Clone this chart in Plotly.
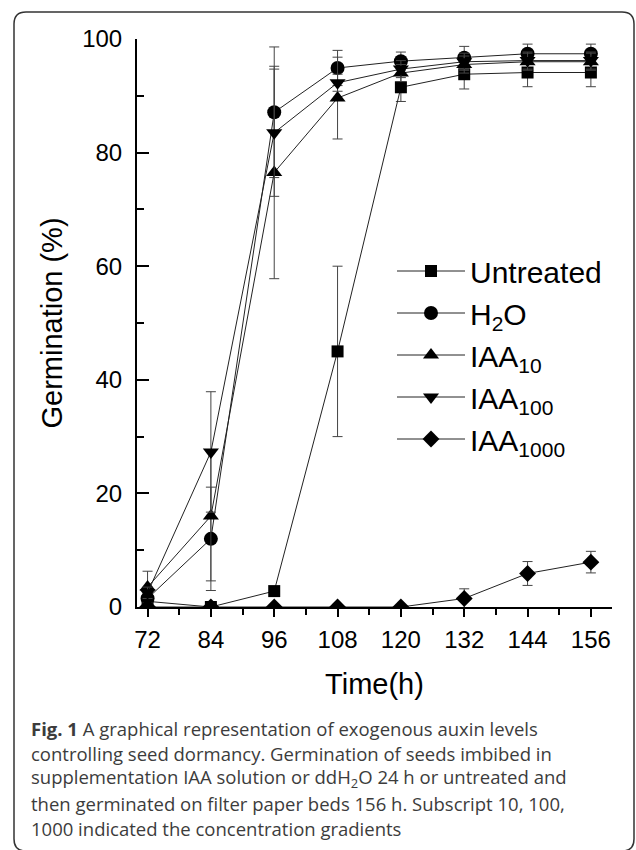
import plotly.graph_objects as go

# ---------------- data ----------------
time_h = [72, 84, 96, 108, 120, 132, 144, 156]

untreated = [1.0, 0.0, 2.8, 45.0, 91.5, 93.8, 94.1, 94.1]
untreated_err = [0.5, 0.0, 0.0, 15.0, 2.5, 2.6, 2.5, 2.5]

h2o = [1.5, 12.0, 87.1, 94.9, 96.1, 96.7, 97.4, 97.4]
h2o_err = [0.5, 9.1, 11.5, 3.1, 1.6, 2.0, 1.7, 1.7]

iaa10 = [3.5, 16.0, 76.5, 89.6, 94.0, 95.5, 96.0, 96.0]
iaa10_err = [2.8, 11.4, 18.7, 7.2, 1.5, 1.5, 1.5, 1.5]

iaa100 = [2.5, 27.3, 83.5, 92.3, 94.7, 96.0, 96.2, 96.2]
iaa100_err = [1.0, 10.6, 11.2, 1.5, 1.5, 1.5, 1.5, 1.5]

iaa1000 = [0.0, 0.0, 0.0, 0.0, 0.0, 1.5, 5.9, 7.9]
iaa1000_err = [0.0, 0.0, 0.0, 0.0, 0.0, 1.7, 2.1, 1.9]

x_ticks = [72, 84, 96, 108, 120, 132, 144, 156]
y_ticks = [0, 20, 40, 60, 80, 100]

series_names = ["Untreated", "H<sub>2</sub>O", "IAA<sub>10</sub>",
                "IAA<sub>100</sub>", "IAA<sub>1000</sub>"]

caption_lines = [
    "<b>Fig. 1</b> A graphical representation of exogenous auxin levels",
    "controlling seed dormancy. Germination of seeds imbibed in",
    "supplementation IAA solution or ddH<sub>2</sub>O 24 h or untreated and",
    "then germinated on filter paper beds 156 h. Subscript 10, 100,",
    "1000 indicated the concentration gradients",
]

# ---------------- layout geometry ----------------
W, H = 636, 850
ML, MR, MT, MB = 137, 24, 39, 243
PW, PH = W - ML - MR, H - MT - MB


def px(x):
    return (x - ML) / PW


def py(y):
    return (H - MB - y) / PH


FONT = "Liberation Sans, Arial, sans-serif"

fig = go.Figure()

specs = [
    (untreated, untreated_err, "square", 12),
    (h2o, h2o_err, "circle", 14),
    (iaa10, iaa10_err, "triangle-up", 14),
    (iaa100, iaa100_err, "triangle-down", 14),
    (iaa1000, iaa1000_err, "diamond", 13),
]

for name, (vals, errs, sym, size) in zip(series_names, specs):
    fig.add_trace(go.Scatter(
        x=time_h, y=vals, name=name, mode="lines+markers",
        line=dict(color="#222222", width=1),
        marker=dict(symbol=sym, size=size, color="black"),
        error_y=dict(type="data", array=errs, visible=True,
                     color="#444444", thickness=1, width=5),
    ))

# rounded frame around the figure
r = 12
L, T, R, B = 14, 12, 634, 851
path = (
    f"M {px(L + r)},{py(T)} L {px(R - r)},{py(T)} "
    f"Q {px(R)},{py(T)} {px(R)},{py(T + r)} "
    f"L {px(R)},{py(B - r)} Q {px(R)},{py(B)} {px(R - r)},{py(B)} "
    f"L {px(L + r)},{py(B)} Q {px(L)},{py(B)} {px(L)},{py(B - r)} "
    f"L {px(L)},{py(T + r)} Q {px(L)},{py(T)} {px(L + r)},{py(T)} Z"
)
fig.add_shape(type="path", path=path, xref="paper", yref="paper",
              line=dict(color="#333333", width=1.5), layer="below")

# caption
for i, line in enumerate(caption_lines):
    fig.add_annotation(
        text=line, xref="paper", yref="paper",
        x=px(29), y=py(728 + 25 * i), xanchor="left", yanchor="middle",
        showarrow=False, align="left",
        font=dict(family="Open Sans, sans-serif", size=18.5, color="#3c3c3c"),
    )

fig.update_layout(
    width=W, height=H,
    margin=dict(l=ML, r=MR, t=MT, b=MB, pad=0),
    paper_bgcolor="white", plot_bgcolor="white",
    font=dict(family=FONT, color="black"),
    showlegend=True,
    legend=dict(
        x=px(392), y=py(245), xanchor="left", yanchor="top",
        font=dict(family=FONT, size=30, color="black"),
        bgcolor="rgba(0,0,0,0)", borderwidth=0,
        itemwidth=68, tracegroupgap=0,
    ),
    xaxis=dict(
        range=[70, 160], tickvals=x_ticks, ticktext=[str(t) for t in x_ticks],
        showline=True, linecolor="black", linewidth=2,
        ticks="outside", ticklen=8, tickwidth=2, tickcolor="black",
        minor=dict(dtick=6, tick0=72, ticks="outside", ticklen=6,
                   tickwidth=2, tickcolor="black", showgrid=False),
        showgrid=False, zeroline=False, mirror=False,
        tickfont=dict(family=FONT, size=24, color="black"),
        ticklabelstandoff=2,
        title=dict(text="Time(h)", font=dict(family=FONT, size=29, color="black"),
                   standoff=22),
    ),
    yaxis=dict(
        range=[0, 100], tickvals=y_ticks,
        showline=True, linecolor="black", linewidth=2,
        ticks="inside", ticklen=12, tickwidth=2, tickcolor="black",
        minor=dict(dtick=10, tick0=0, ticks="inside", ticklen=7,
                   tickwidth=2, tickcolor="black", showgrid=False),
        showgrid=False, zeroline=False, mirror=False,
        tickfont=dict(family=FONT, size=24, color="black"),
        ticklabelstandoff=8,
        title=dict(text="Germination (%)", font=dict(family=FONT, size=29, color="black"),
                   standoff=11),
    ),
)

fig.write_html("out.html")
